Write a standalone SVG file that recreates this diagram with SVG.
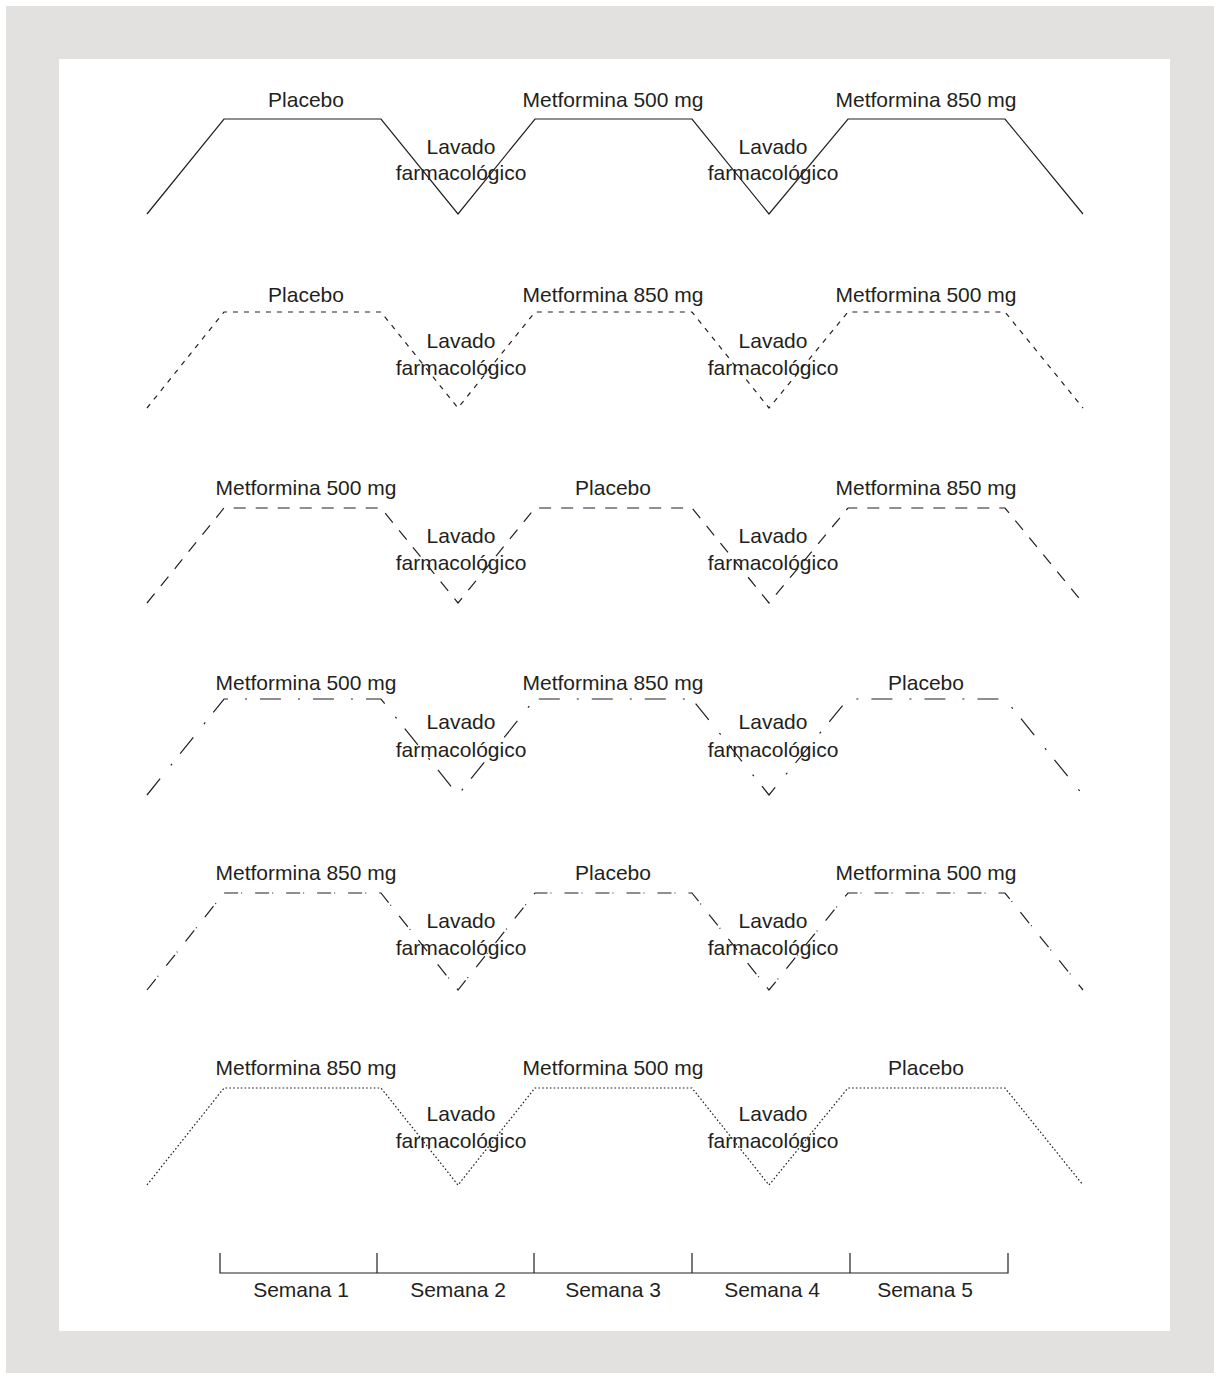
<svg xmlns="http://www.w3.org/2000/svg" width="1220" height="1379" viewBox="0 0 1220 1379">
<style>
text{font-family:"Liberation Sans",Arial,sans-serif;font-size:21px;fill:#231f20;text-anchor:middle}
.ln{fill:none;stroke:#231f20;stroke-width:1.2;stroke-linejoin:miter}
.s2{stroke-dasharray:5 6}
.s3{stroke-dasharray:12 10}
.s4{stroke-dasharray:21 17 2 13}
.s5{stroke-dasharray:14 3 1 13}
.s6{stroke-dasharray:1.6 2.2}
</style>
<rect x="0" y="0" width="1220" height="1379" fill="#ffffff"/>
<rect x="6" y="6" width="1208" height="1367" fill="#e2e1df"/>
<rect x="59" y="59" width="1111" height="1272" fill="#ffffff"/>
<g id="connectors">
<polyline class="ln" points="147,214 224,119 381,119 458,214 535,119 692,119 769,214 848,119 1005,119 1083,214"/>
<polyline class="ln s2" points="147,408 224,312 381,312 458,408 535,312 692,312 769,408 848,312 1005,312 1083,408"/>
<polyline class="ln s3" points="147,603 224,508 381,508 458,603 535,508 692,508 769,603 848,508 1005,508 1083,603"/>
<polyline class="ln s4" points="147,795 224,699 381,699 458,795 535,699 692,699 769,795 848,699 1005,699 1083,795"/>
<polyline class="ln s5" points="147,990 224,893 381,893 458,990 535,893 692,893 769,990 848,893 1005,893 1083,990"/>
<polyline class="ln s6" points="147,1185 224,1088 381,1088 458,1185 535,1088 692,1088 769,1185 848,1088 1005,1088 1083,1185"/>
</g>
<g id="row1">
<text x="306" y="107">Placebo</text>
<text x="613" y="107">Metformina 500 mg</text>
<text x="926" y="107">Metformina 850 mg</text>
<text x="461" y="154">Lavado</text><text x="461" y="180">farmacológico</text>
<text x="773" y="154">Lavado</text><text x="773" y="180">farmacológico</text>
</g>
<g id="row2">
<text x="306" y="302">Placebo</text>
<text x="613" y="302">Metformina 850 mg</text>
<text x="926" y="302">Metformina 500 mg</text>
<text x="461" y="348">Lavado</text><text x="461" y="375">farmacológico</text>
<text x="773" y="348">Lavado</text><text x="773" y="375">farmacológico</text>
</g>
<g id="row3">
<text x="306" y="495">Metformina 500 mg</text>
<text x="613" y="495">Placebo</text>
<text x="926" y="495">Metformina 850 mg</text>
<text x="461" y="543">Lavado</text><text x="461" y="570">farmacológico</text>
<text x="773" y="543">Lavado</text><text x="773" y="570">farmacológico</text>
</g>
<g id="row4">
<text x="306" y="690">Metformina 500 mg</text>
<text x="613" y="690">Metformina 850 mg</text>
<text x="926" y="690">Placebo</text>
<text x="461" y="729">Lavado</text><text x="461" y="757">farmacológico</text>
<text x="773" y="729">Lavado</text><text x="773" y="757">farmacológico</text>
</g>
<g id="row5">
<text x="306" y="880">Metformina 850 mg</text>
<text x="613" y="880">Placebo</text>
<text x="926" y="880">Metformina 500 mg</text>
<text x="461" y="928">Lavado</text><text x="461" y="955">farmacológico</text>
<text x="773" y="928">Lavado</text><text x="773" y="955">farmacológico</text>
</g>
<g id="row6">
<text x="306" y="1075">Metformina 850 mg</text>
<text x="613" y="1075">Metformina 500 mg</text>
<text x="926" y="1075">Placebo</text>
<text x="461" y="1121">Lavado</text><text x="461" y="1148">farmacológico</text>
<text x="773" y="1121">Lavado</text><text x="773" y="1148">farmacológico</text>
</g>
<g id="timeline">
<path class="ln" d="M220,1253V1273H1008V1253M377,1253V1273M534,1253V1273M692,1253V1273M850,1253V1273"/>
<text x="301" y="1297">Semana 1</text>
<text x="458" y="1297">Semana 2</text>
<text x="613" y="1297">Semana 3</text>
<text x="772" y="1297">Semana 4</text>
<text x="925" y="1297">Semana 5</text>
</g>
</svg>
